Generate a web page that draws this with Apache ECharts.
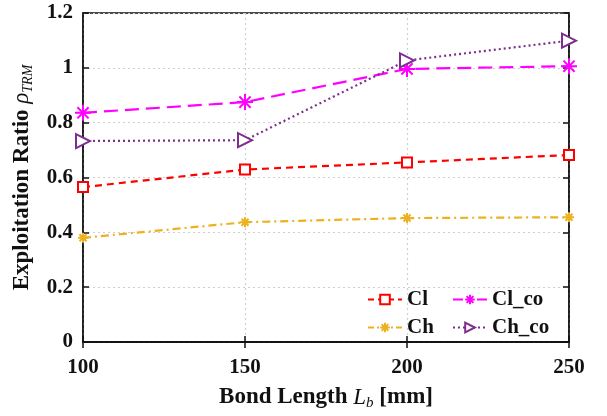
<!DOCTYPE html>
<html><head><meta charset="utf-8">
<script src="https://cdn.jsdelivr.net/npm/echarts@6/dist/echarts.min.js"></script>
<style>html,body{margin:0;padding:0;background:#fff}#c{width:607px;height:416px}</style>
</head><body><div id="c"></div>
<script>
var bondLength = [100, 150, 200, 250];
var cl   = [0.565, 0.629, 0.655, 0.682];
var ch   = [0.380, 0.437, 0.452, 0.455];
var clCo = [0.836, 0.875, 0.996, 1.006];
var chCo = [0.733, 0.736, 1.027, 1.099];
var yTicks = [0, 0.2, 0.4, 0.6, 0.8, 1, 1.2];

var FONT = '"Liberation Serif", "DejaVu Serif", serif';
var asterisk = 'path://M5,0 L5,10 M0,5 L10,5 M1.5,1.5 L8.5,8.5 M1.5,8.5 L8.5,1.5';
var triRight = 'path://M0,0 L10,5 L0,10 Z';

var styles = {
  'Cl':    {color: '#FF0000', dash: [7,5],     legDash: [6,4],     sym: 'rect',   size: 10, fill: '#fff'},
  'Cl_co': {color: '#FF00FF', dash: [14,7],    legDash: [10,14],   sym: asterisk, size: 16, fill: '#FF00FF'},
  'Ch':    {color: '#EDB120', dash: [8,4,2,4], legDash: [6,3,2,3], sym: asterisk, size: 10, fill: '#EDB120'},
  'Ch_co': {color: '#7E2F8E', dash: [2,3],     legDash: [2,3],     sym: triRight, size: 14, fill: '#fff'}
};

function pts(arr){ return bondLength.map(function(x,i){return [x, arr[i]];}); }

function mk(name, data){
  var s = styles[name];
  return {
    name: name, type: 'line', data: pts(data),
    symbol: s.sym, symbolSize: s.size,
    lineStyle: {color: s.color, width: 2.2, type: s.dash},
    itemStyle: {color: s.fill, borderColor: s.color, borderWidth: 2},
    emphasis: {disabled: true}, animation: false, z: 3
  };
}
function legItem(name){
  var s = styles[name];
  return {name: name, lineStyle: {type: s.legDash, width: 2, color: s.color}};
}

var chart = echarts.init(document.getElementById('c'));
var axisLab = {fontFamily: FONT, fontWeight: 'bold', fontSize: 21, color: '#111'};
chart.setOption({
  animation: false,
  grid: {left: 83, right: 38, top: 13, bottom: 69, show: true, borderColor: '#111', borderWidth: 1.5},
  xAxis: [{
    type: 'value', min: 100, max: 250, interval: 50,
    axisLine: {show: true, lineStyle: {color: '#111', width: 1.5}},
    axisTick: {show: true, inside: true, length: 6, lineStyle: {color: '#111', width: 1.5}},
    axisLabel: Object.assign({margin: 15}, axisLab),
    splitLine: {show: true, lineStyle: {color: '#cfcfcf', type: [2,3], width: 1.2}},
    name: '{b|Bond Length }{i|L}{s|b}{b| [mm]}', nameLocation: 'middle', nameGap: 42,
    nameTextStyle: {rich: {
      b: {fontFamily: FONT, fontWeight: 'bold', fontSize: 23, color: '#111'},
      i: {fontFamily: FONT, fontStyle: 'italic', fontSize: 23, color: '#111'},
      s: {fontFamily: FONT, fontStyle: 'italic', fontSize: 15, color: '#111', verticalAlign: 'bottom', padding: [12,0,0,0]}
    }}
  },{
    type: 'value', min: 100, max: 250, interval: 50, position: 'top',
    axisLine: {show: true, lineStyle: {color: '#111', width: 1.5}},
    axisTick: {show: true, inside: true, length: 6, lineStyle: {color: '#111', width: 1.5}},
    axisLabel: {show: false}, splitLine: {show: false}
  }],
  yAxis: [{
    type: 'value', min: 0, max: 1.2, interval: 0.2,
    axisLine: {show: true, lineStyle: {color: '#111', width: 1.5}},
    axisTick: {show: true, inside: true, length: 6, lineStyle: {color: '#111', width: 1.5}},
    axisLabel: Object.assign({margin: 10, formatter: function(v){ var t = yTicks.filter(function(y){return Math.abs(y-v)<1e-9;}); return t.length? String(t[0]) : ''; }}, axisLab),
    splitLine: {show: true, lineStyle: {color: '#cfcfcf', type: [2,3], width: 1.2}},
    name: '{b|Exploitation Ratio }{i|ρ}{s|TRM}', nameLocation: 'middle', nameGap: 48, nameRotate: 90,
    nameTextStyle: {rich: {
      b: {fontFamily: FONT, fontWeight: 'bold', fontSize: 23, color: '#111'},
      i: {fontFamily: FONT, fontStyle: 'italic', fontSize: 23, color: '#111'},
      s: {fontFamily: FONT, fontStyle: 'italic', fontSize: 14, color: '#111', padding: [12,0,0,0]}
    }}
  },{
    type: 'value', min: 0, max: 1.2, interval: 0.2, position: 'right',
    axisLine: {show: true, lineStyle: {color: '#111', width: 1.5}},
    axisTick: {show: true, inside: true, length: 6, lineStyle: {color: '#111', width: 1.5}},
    axisLabel: {show: false}, splitLine: {show: false}
  }],
  legend: [{
    orient: 'vertical', left: 362, top: 284, itemGap: 7, itemWidth: 34, itemHeight: 12,
    data: [legItem('Cl'), legItem('Ch')],
    textStyle: {fontFamily: FONT, fontWeight: 'bold', fontSize: 21, color: '#111'}
  },{
    orient: 'vertical', left: 447, top: 284, itemGap: 7, itemWidth: 34, itemHeight: 12,
    data: [legItem('Cl_co'), legItem('Ch_co')],
    textStyle: {fontFamily: FONT, fontWeight: 'bold', fontSize: 21, color: '#111'}
  }],
  series: [
    mk('Cl', cl),
    mk('Cl_co', clCo),
    mk('Ch', ch),
    mk('Ch_co', chCo)
  ]
});
</script></body></html>
